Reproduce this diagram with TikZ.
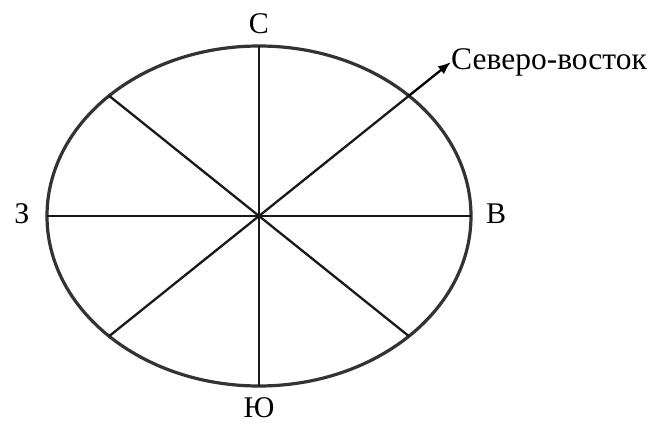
\documentclass[tikz,border=0pt]{standalone}
\usepackage{fontspec}
\setmainfont{Liberation Serif}
\usetikzlibrary{arrows.meta,calc}

\begin{document}
\begin{tikzpicture}[x=1pt,y=-1pt,>={Latex[length=13pt,width=10pt]},
  side/.style={font=\fontsize{30}{32}\selectfont,inner sep=0pt},
  spoke/.style={line width=2.3pt,black!90}]
  \useasboundingbox (0,0) rectangle (652,425);
  \coordinate (O) at (259,216);
  \draw[line width=3.2pt,black!80] (O) ellipse [x radius=212, y radius=170];
  \foreach \t in {0,45,...,315}
    \draw[spoke] (O) -- ($(O)+(\t:212 and 170)$);
  % compass letters
  \node[side] (N) at (259,24) {С};
  \node[side] (S) at (259,408) {Ю};
  \node[side] (W) at (22,214) {З};
  \node[side] (E) at (496,214) {В};
  % north-east label
  \coordinate (NEp) at ($(O)+(-45:212 and 170)$);
  \node[font=\fontsize{31.5}{34}\selectfont,anchor=west,inner sep=0pt] (NE) at (451,62) {Северо-восток};
  \draw[->,line width=2.3pt] (NEp) -- (NE.west);
\end{tikzpicture}
\end{document}
